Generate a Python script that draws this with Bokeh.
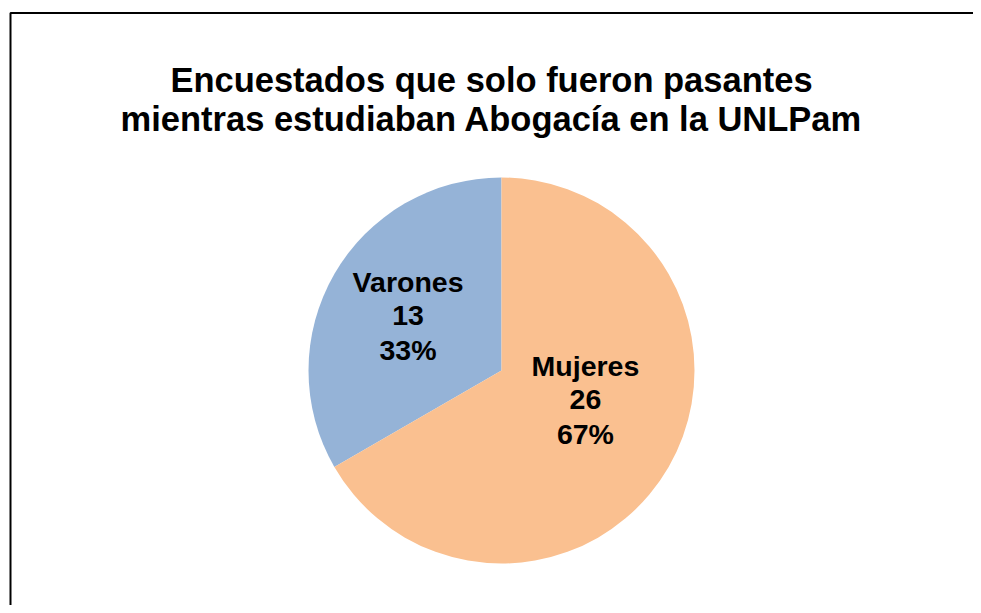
import math
from bokeh.plotting import figure
from bokeh.models import ColumnDataSource, Range1d
from bokeh.core.properties import value
from bokeh.embed import file_html
from bokeh.resources import INLINE

# ---- data ----
categories = ["Varones", "Mujeres"]
counts = [13, 26]
percent_labels = ["33%", "67%"]
colors = ["#95B3D7", "#FAC090"]
title_lines = ["Encuestados que solo fueron pasantes",
               "mientras estudiaban Abogacía en la UNLPam"]

# ---- layout (canvas pixels, y up) ----
W, H = 973, 605
cx, cy, R = 501, 235, 193
label_r = [0.533, 0.485]      # fraction of radius for each label centre
label_ang_shift = [5.3, 3.7]  # degrees, best-fit nudge
line_gap = 34
text_dy = 12                  # baseline correction

p = figure(width=W, height=H, output_backend="svg", toolbar_location=None,
           x_range=Range1d(0, W), y_range=Range1d(0, H), min_border=0)
p.axis.visible = False
p.grid.visible = False
p.outline_line_color = None
p.background_fill_color = "white"
p.border_fill_color = "white"

# border (chart area frame, left and top visible)
p.line(x=[10, 10, W + 20], y=[-5, 592.5, 592.5], line_color="black", line_width=2)

# wedges: Varones anticlockwise from top, Mujeres continues
total = sum(counts)
starts, ends, mids = [], [], []
a = 90.0
for c in counts:
    span = 360.0 * c / total
    starts.append(math.radians(a))
    ends.append(math.radians(a + span))
    mids.append(a + span / 2)
    a += span

src = ColumnDataSource(dict(start=starts, end=ends, color=colors,
                            x=[cx] * len(counts), y=[cy] * len(counts)))
p.wedge(x="x", y="y", radius=R, start_angle="start", end_angle="end",
        fill_color="color", line_color=None, source=src)

# labels (middle line baseline at the computed anchor)
lx, ly, lt = [], [], []
for i, cat in enumerate(categories):
    ang = math.radians(mids[i] + label_ang_shift[i])
    px = cx + label_r[i] * R * math.cos(ang)
    py = cy + label_r[i] * R * math.sin(ang)
    lines = [cat, str(counts[i]), percent_labels[i]]
    for j, t in enumerate(lines):
        lx.append(px)
        ly.append(py + line_gap * (1 - j) + text_dy)
        lt.append(t)
p.text(x=lx, y=ly, text=lt, text_font=value("Liberation Sans"),
       text_font_style="bold", text_font_size="28.5px", text_align="center",
       text_baseline="alphabetic", text_color="black")

# title
p.text(x=[491, 491], y=[513.3 + text_dy, 475 + text_dy], text=title_lines,
       text_font=value("Liberation Sans"), text_font_style="bold",
       text_font_size="34.5px", text_align="center",
       text_baseline="alphabetic", text_color="black")

open("out.html", "w").write(file_html(p, INLINE))
